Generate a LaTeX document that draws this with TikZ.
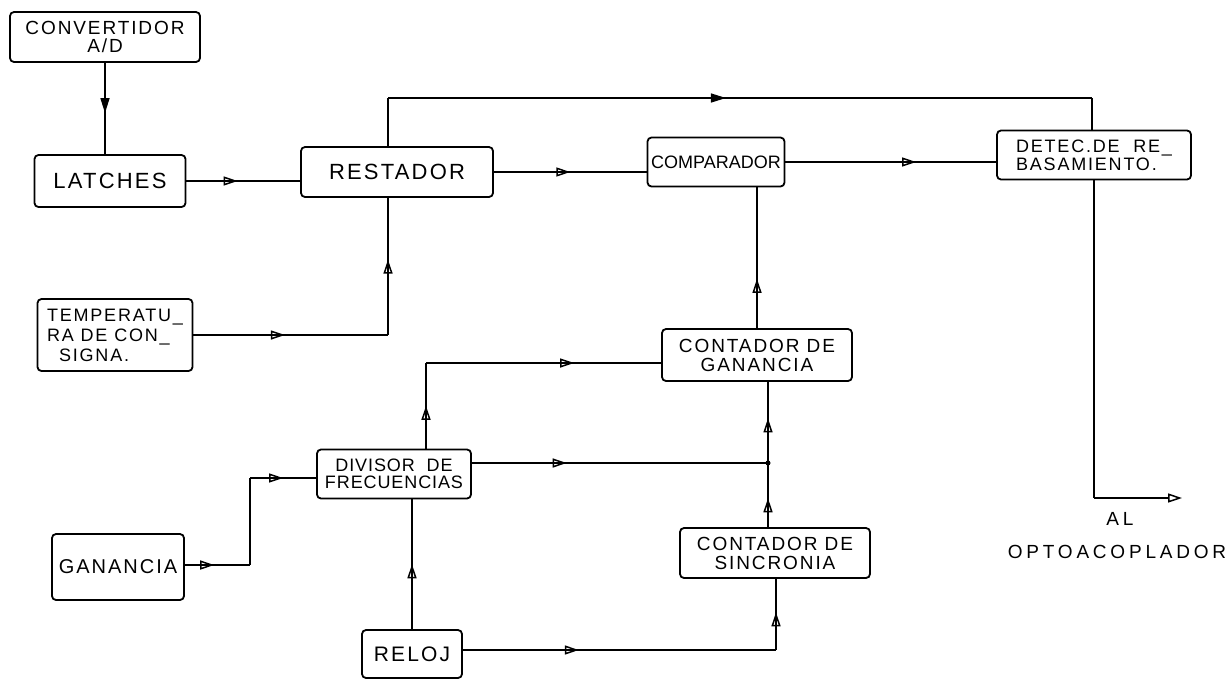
\documentclass[tikz,border=0pt]{standalone}
\usepackage{fontspec}
\setmainfont{Liberation Sans}[LetterSpace=10]
\usetikzlibrary{arrows.meta,decorations.markings}

\tikzset{
  blk/.style={draw, line width=1.8pt, rounded corners=4pt, inner sep=2pt, align=center,
    font=\fontsize{19}{19}\selectfont},
  flow/.style={line width=1.5pt, postaction={decorate},
    decoration={markings, mark=at position #1 with {\arrow{Triangle[open,length=14pt,width=9pt,line width=1.5pt]}}}},
  flowf/.style={line width=1.5pt, postaction={decorate},
    decoration={markings, mark=at position #1 with {\arrow{Triangle[length=15pt,width=9pt]}}}},
  lbl/.style={font=\fontsize{19}{19}\selectfont\addfontfeature{LetterSpace=20}}
}

\begin{document}
\begin{tikzpicture}[x=1pt,y=-1pt]
    \path[use as bounding box, fill=white] (0,0) rectangle (1230,678);

    % Nodes
    \node[blk, minimum width=190pt, minimum height=50pt, font=\fontsize{19}{18}\selectfont] (conv) at (105,37) {CONVERTIDOR\\A/D};
    \node[blk, minimum width=151pt, minimum height=52pt, font=\fontsize{22}{22}\selectfont] (latch) at (110,181) {LATCHES};
    \node[blk, minimum width=192pt, minimum height=50pt, font=\fontsize{22}{22}\selectfont] (rest) at (397,172) {RESTADOR};
    \node[blk, minimum width=137pt, minimum height=49pt, font=\fontsize{18}{18}\selectfont\addfontfeature{LetterSpace=0}] (comp) at (716,162) {COMPARADOR};
    \node[blk, minimum width=194pt, minimum height=49pt, align=left, font=\fontsize{18}{18}\selectfont] (detec) at (1094,155) {DETEC.DE\ \ RE\_\\BASAMIENTO.};
    \node[blk, minimum width=155pt, minimum height=72pt, align=left, font=\fontsize{18}{20}\selectfont] (temp) at (115,335) {TEMPERATU\_\\RA DE CON\_\\\hspace{12pt}SIGNA.};
    \node[blk, minimum width=190pt, minimum height=52pt] (cgan) at (757,355) {CONTADOR DE\\GANANCIA};
    \node[blk, minimum width=154pt, minimum height=49pt, font=\fontsize{18}{17}\selectfont\addfontfeature{LetterSpace=5}] (div) at (394,474) {DIVISOR\ \ DE\\FRECUENCIAS};
    \node[blk, minimum width=132pt, minimum height=66pt, font=\fontsize{20}{20}\selectfont] (gan) at (118,567) {GANANCIA};
    \node[blk, minimum width=100pt, minimum height=48pt, font=\fontsize{21}{21}\selectfont] (reloj) at (412,654) {RELOJ};
    \node[blk, minimum width=190pt, minimum height=50pt] (csinc) at (775,553) {CONTADOR DE\\SINCRONIA};

    \node[lbl] (al) at (1120,519) {AL};
    \node[lbl] (opto) at (1117,552) {OPTOACOPLADOR};

    \coordinate (toprest) at (388,98);
    \coordinate (topdet) at (1092,98);
    \coordinate (out) at (1182,498);
    \coordinate (tempc) at (388,335);
    \coordinate (divc) at (426,363);
    \coordinate (ganc1) at (250,565);
    \coordinate (ganc2) at (250,478);
    \coordinate (jn) at (768,463);
    \coordinate (relc) at (776,650);

    % Lines
    \draw[flowf=0.55] (conv.south) -- (conv.south |- latch.north);
    \draw[flow=0.45] (latch.east) -- (latch.east -| rest.west);
    \draw[line width=1.5pt] (rest.north -| toprest) -- (toprest);
    \draw[flowf=0.48] (toprest) -- (topdet);
    \draw[line width=1.5pt] (topdet) -- (topdet |- detec.north);
    \draw[flow=0.5] (rest.east) -- (rest.east -| comp.west);
    \draw[flow=0.62] (comp.east) -- (comp.east -| detec.west);
    \draw[line width=1.5pt] (detec.south) -- (detec.south |- out);
    \draw[line width=1.5pt, -{Triangle[open,length=14pt,width=9pt,line width=1.5pt]}] (detec.south |- out) -- (out);

    \draw[flow=0.47] (temp.east) -- (tempc);
    \draw[flow=0.55] (tempc) -- (tempc |- rest.south);
    \draw[flow=0.35] (cgan.north) -- (cgan.north |- comp.south);

    \draw[flow=0.5] (div.north -| divc) -- (divc);
    \draw[flow=0.63] (divc) -- (divc -| cgan.west);
    \draw[flow=0.45] (gan.east |- ganc1) -- (ganc1);
    \draw[line width=1.5pt] (ganc1) -- (ganc2);
    \draw[flow=0.5] (ganc2) -- (ganc2 -| div.west);

    \draw[flow=0.32] (div.east |- jn) -- (jn);
    \draw[flow=0.55] (jn) -- (jn |- cgan.south);
    \draw[flow=0.45] (csinc.north -| jn) -- (jn);
    \fill (jn) circle (2.5pt);

    \draw[flow=0.5] (reloj.north) -- (reloj.north |- div.south);
    \draw[flow=0.37] (reloj.east |- relc) -- (relc);
    \draw[flow=0.53] (relc) -- (relc |- csinc.south);

\end{tikzpicture}
\end{document}
